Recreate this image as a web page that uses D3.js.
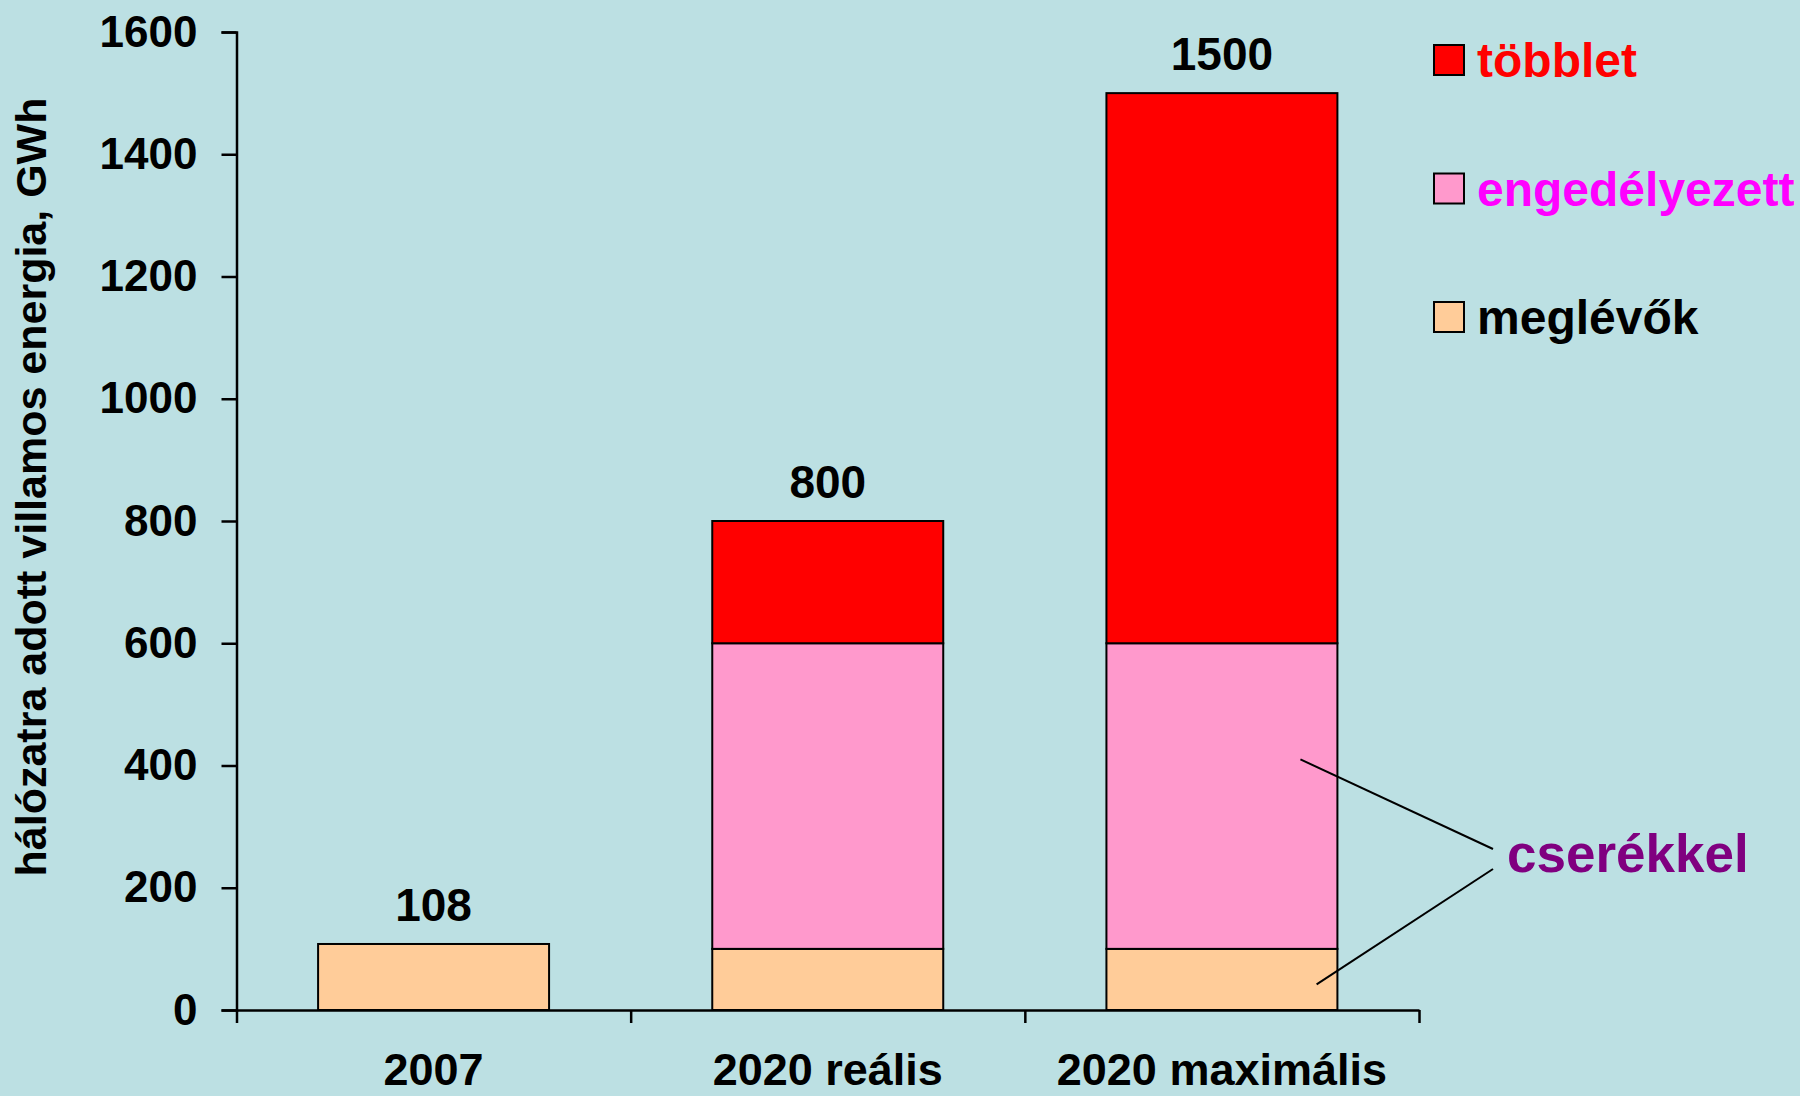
<!DOCTYPE html>
<html>
<head>
<meta charset="utf-8">
<script src="https://cdn.jsdelivr.net/npm/d3@7"></script>
<style>
  html, body { margin: 0; padding: 0; background: #bce0e3; }
  svg { display: block; }
  text { font-family: "Liberation Sans", Arial, sans-serif; font-weight: bold; }
</style>
</head>
<body>
<script>
// ---- data ----
const categories = ["2007", "2020 reális", "2020 maximális"];
const seriesNames = ["meglévők", "engedélyezett", "többlet"];
const meglevok = [108, 100, 100];
const engedelyezett = [0, 500, 500];
const tobblet = [0, 200, 900];
const totals = [108, 800, 1500];
const yTicks = [0, 200, 400, 600, 800, 1000, 1200, 1400, 1600];
const annotationText = "cserékkel";
const annotationTargets = [
  { category: "2020 maximális", value: 410, frac: 0.84 },
  { category: "2020 maximális", value: 42, frac: 0.91 }
];

// ---- styles ----
const W = 1800, H = 1096;
const fills = { "meglévők": "#ffcc99", "engedélyezett": "#ff99cc", "többlet": "#ff0000" };
const legendTextColors = { "meglévők": "#000000", "engedélyezett": "#ff00ff", "többlet": "#ff0000" };

const svg = d3.select("body").append("svg").attr("width", W).attr("height", H)
  .style("background", "#bce0e3");

const margin = { left: 236.5, right: 1419, top: 32, bottom: 1010 };

const x = d3.scaleBand().domain(categories).range([margin.left, margin.right]).padding(0);
const y = d3.scaleLinear().domain([0, 1600]).range([margin.bottom, margin.top]);
const barW = x.bandwidth() * 0.586;

const rows = categories.map((c, i) => ({
  category: c, "meglévők": meglevok[i], "engedélyezett": engedelyezett[i], "többlet": tobblet[i]
}));
const stack = d3.stack().keys(seriesNames)(rows);

// bars
const g = svg.append("g");
stack.forEach(layer => {
  g.selectAll(null).data(layer.filter(d => d[1] - d[0] > 0)).join("rect")
    .attr("x", d => x(d.data.category) + (x.bandwidth() - barW) / 2)
    .attr("y", d => y(d[1]))
    .attr("width", barW)
    .attr("height", d => y(d[0]) - y(d[1]))
    .attr("fill", fills[layer.key])
    .attr("stroke", "#000")
    .attr("stroke-width", 2);
});

// y axis
const yAxis = d3.axisLeft(y).tickValues(yTicks).tickSize(15).tickPadding(24).tickFormat(d3.format("d"));
const ya = svg.append("g").attr("transform", `translate(${margin.left},0)`).call(yAxis);
ya.select(".domain").attr("stroke", "#000").attr("stroke-width", 2.5);
ya.selectAll(".tick line").attr("stroke", "#000").attr("stroke-width", 2.5);
ya.selectAll(".tick text").attr("font-size", 44).attr("fill", "#000")
  .attr("font-family", "Liberation Sans, Arial, sans-serif").attr("font-weight", "bold");

// x axis: ticks at band boundaries
const xLin = d3.scaleLinear().domain([0, categories.length]).range([margin.left, margin.right]);
const xa = svg.append("g").attr("transform", `translate(0,${margin.bottom})`)
  .call(d3.axisBottom(xLin).tickValues(d3.range(categories.length + 1)).tickSize(13).tickSizeOuter(0).tickFormat(""));
xa.select(".domain").attr("stroke", "#000").attr("stroke-width", 2.5);
xa.selectAll(".tick line").attr("stroke", "#000").attr("stroke-width", 2.5);

// category labels
svg.append("g").selectAll("text").data(categories).join("text")
  .attr("x", d => x(d) + x.bandwidth() / 2)
  .attr("y", 1085)
  .attr("text-anchor", "middle")
  .attr("font-size", 45)
  .attr("fill", "#000")
  .text(d => d);

// value labels
svg.append("g").selectAll("text").data(categories).join("text")
  .attr("x", d => x(d) + x.bandwidth() / 2)
  .attr("y", (d, i) => y(totals[i]) - 23)
  .attr("text-anchor", "middle")
  .attr("font-size", 46)
  .attr("fill", "#000")
  .text((d, i) => totals[i]);

// y axis title
svg.append("text")
  .attr("transform", `translate(46,487) rotate(-90)`)
  .attr("text-anchor", "middle")
  .attr("font-size", 43)
  .attr("fill", "#000")
  .text("hálózatra adott villamos energia, GWh");

// legend
const legendItems = ["többlet", "engedélyezett", "meglévők"];
const lg = svg.append("g");
legendItems.forEach((k, i) => {
  const cy = 60 + i * 128.5;
  lg.append("rect").attr("x", 1434).attr("y", cy - 15).attr("width", 30).attr("height", 30)
    .attr("fill", fills[k]).attr("stroke", "#000").attr("stroke-width", 2);
  lg.append("text").attr("x", 1477).attr("y", cy + 17).attr("font-size", 48)
    .attr("fill", legendTextColors[k]).text(k);
});

// annotation
const ann = svg.append("g");
const endPts = [[1493, 849], [1493, 869]];
annotationTargets.forEach((t, i) => {
  const sx = x(t.category) + (x.bandwidth() - barW) / 2 + barW * t.frac;
  ann.append("line").attr("x1", sx).attr("y1", y(t.value))
    .attr("x2", endPts[i][0]).attr("y2", endPts[i][1])
    .attr("stroke", "#000").attr("stroke-width", 2);
});
ann.append("text").attr("x", 1507).attr("y", 872).attr("font-size", 53)
  .attr("fill", "#800080").text(annotationText);
</script>
</body>
</html>
